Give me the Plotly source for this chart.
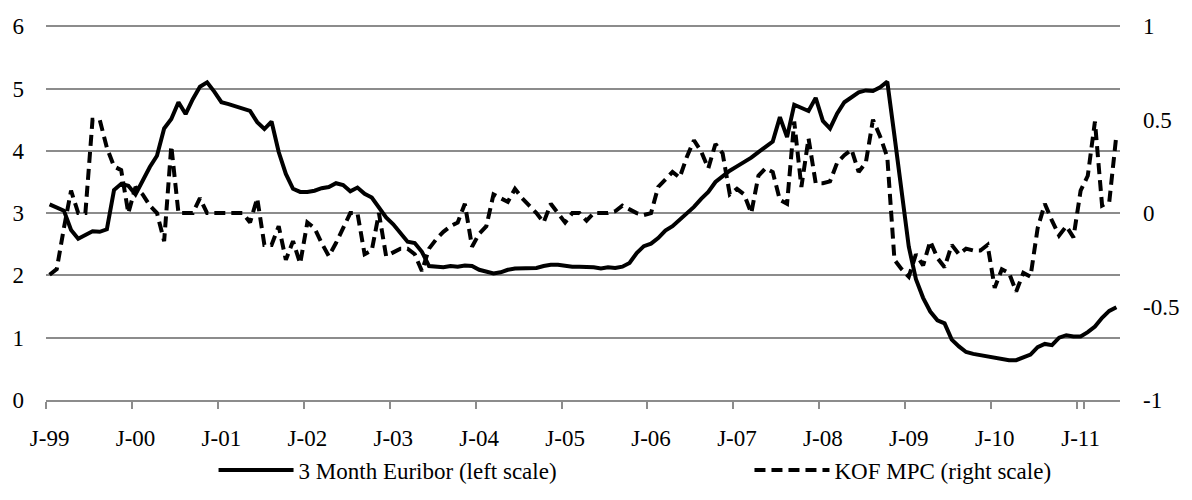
import plotly.graph_objects as go

years = list(range(1999, 2012))
months = [f"{y}-{m:02d}" for y in years for m in range(1, 13)][:150]
tick_cats = [f"{y}-01" for y in years]
tick_text = ["J-99", "J-00", "J-01", "J-02", "J-03", "J-04", "J-05",
             "J-06", "J-07", "J-08", "J-09", "J-10", "J-11"]

euribor = [
    3.14, 3.09, 3.04, 2.73, 2.59, 2.65, 2.71, 2.70, 2.74, 3.37, 3.47, 3.44,
    3.30, 3.52, 3.74, 3.92, 4.36, 4.51, 4.78, 4.59, 4.83, 5.03, 5.10, 4.95,
    4.78, 4.75, 4.71, 4.68, 4.64, 4.46, 4.35, 4.47, 3.98, 3.63, 3.39, 3.34,
    3.34, 3.36, 3.40, 3.42, 3.48, 3.45, 3.35, 3.41, 3.31, 3.25, 3.10, 2.93,
    2.82, 2.68, 2.54, 2.52, 2.38, 2.15, 2.14, 2.13, 2.15, 2.14, 2.16, 2.15,
    2.09, 2.06, 2.03, 2.05, 2.09, 2.11, 2.11, 2.12, 2.12, 2.15, 2.17, 2.17,
    2.15, 2.14, 2.14, 2.14, 2.13, 2.11, 2.13, 2.12, 2.14, 2.20, 2.36, 2.47,
    2.51, 2.60, 2.72, 2.79, 2.89, 2.99, 3.10, 3.23, 3.34, 3.50, 3.60, 3.68,
    3.75, 3.82, 3.89, 3.98, 4.07, 4.15, 4.54, 4.22, 4.74, 4.69, 4.64, 4.85,
    4.48, 4.36, 4.60, 4.78, 4.86, 4.94, 4.97, 4.96, 5.02, 5.11, 4.24, 3.29,
    2.46, 1.94, 1.64, 1.42, 1.28, 1.23, 0.97, 0.86, 0.77, 0.74, 0.72, 0.71,
    0.68, 0.66, 0.64, 0.64, 0.69, 0.73, 0.85, 0.90, 0.88, 1.00, 1.04, 1.02,
    1.02, 1.09, 1.18, 1.32, 1.43, 1.49,
]

kof_mpc = [
    -0.33, -0.30, -0.08, 0.12, 0.00, 0.00, 0.50, 0.50, 0.35, 0.25, 0.23, 0.00,
    0.14, 0.10, 0.04, 0.00, -0.15, 0.36, 0.00, 0.00, 0.00, 0.08, 0.00, 0.00,
    0.00, 0.00, 0.00, 0.00, -0.05, 0.08, -0.17, -0.17, -0.07, -0.25, -0.15, -0.27,
    -0.05, -0.08, -0.16, -0.23, -0.16, -0.08, 0.00, 0.00, -0.22, -0.20, 0.00, -0.23,
    -0.21, -0.19, -0.19, -0.22, -0.31, -0.19, -0.14, -0.10, -0.07, -0.05, 0.05, -0.18,
    -0.11, -0.07, 0.10, 0.08, 0.06, 0.13, 0.08, 0.04, 0.00, -0.05, 0.05, 0.00,
    -0.05, 0.00, 0.00, -0.04, 0.00, 0.00, 0.00, 0.01, 0.04, 0.02, 0.00, -0.01,
    0.00, 0.14, 0.18, 0.22, 0.19, 0.30, 0.39, 0.33, 0.24, 0.37, 0.32, 0.10,
    0.13, 0.10, 0.00, 0.20, 0.24, 0.22, 0.07, 0.05, 0.49, 0.14, 0.40, 0.16,
    0.16, 0.17, 0.27, 0.31, 0.34, 0.22, 0.27, 0.50, 0.41, 0.30, -0.25, -0.30,
    -0.34, -0.22, -0.28, -0.15, -0.24, -0.29, -0.17, -0.22, -0.19, -0.20, -0.20, -0.17,
    -0.40, -0.30, -0.32, -0.42, -0.32, -0.34, -0.08, 0.05, -0.04, -0.12, -0.07, -0.13,
    0.12, 0.20, 0.49, 0.04, 0.06, 0.42,
]

left_ticks = [0, 1, 2, 3, 4, 5, 6]
right_ticks = [-1, -0.5, 0, 0.5, 1]
right_text = ["-1", "-0.5", "0", "0.5", "1"]

GRID = "#8c8c8c"
FONT = dict(family="Liberation Serif", size=23, color="black")

fig = go.Figure()
fig.add_trace(go.Scatter(
    x=months, y=euribor, mode="lines", name="3 Month Euribor (left scale)",
    line=dict(color="black", width=4), yaxis="y", xaxis="x", legend="legend",
))
fig.add_trace(go.Scatter(
    x=months, y=kof_mpc, mode="lines", name="KOF MPC (right scale)",
    line=dict(color="black", width=4, dash="11px,6px"), yaxis="y2", xaxis="x",
    legend="legend2",
))

n = len(months)
top_left = 6.02
top_right = (top_left - 3) / 3

leg_common = dict(orientation="h", xanchor="left", y=-0.187, yanchor="middle",
                  font=FONT, itemwidth=75, bgcolor="rgba(0,0,0,0)")

# the page body adds an 8px offset, so the figure is 8px smaller than the window
fig.update_layout(
    width=1184, height=492,
    margin=dict(l=38, r=72, t=17, b=100, autoexpand=False),
    paper_bgcolor="white", plot_bgcolor="white",
    font=FONT,
    showlegend=True,
    legend=dict(x=0.156, **leg_common),
    legend2=dict(x=0.655, **leg_common),
    xaxis=dict(
        type="category", categoryorder="array", categoryarray=months,
        range=[-0.5, n - 0.5],
        tickmode="array", tickvals=tick_cats, ticktext=tick_text,
        tickson="boundaries", ticks="outside", ticklen=7, tickwidth=1.5, tickcolor=GRID,
        tickangle=0,
        showgrid=False, showline=True, linecolor=GRID, linewidth=1.5,
        zeroline=False, tickfont=FONT, ticklabelstandoff=17,
    ),
    xaxis2=dict(
        overlaying="x", anchor="y", side="bottom", type="linear",
        range=[-0.5, n - 0.5], tickmode="array",
        tickvals=[12 * k - 0.5 for k in range(len(years))],
        ticks="inside", ticklen=7, tickwidth=1.5, tickcolor=GRID,
        showticklabels=False, showgrid=False, showline=False, zeroline=False,
    ),
    yaxis=dict(
        range=[0, top_left], tickmode="array", tickvals=left_ticks,
        showgrid=True, gridcolor=GRID, gridwidth=1.5,
        zeroline=False, showline=False, ticks="", tickfont=FONT,
        ticklabelstandoff=21,
    ),
    yaxis2=dict(
        range=[-1, top_right], overlaying="y", side="right", anchor="x",
        tickmode="array", tickvals=right_ticks, ticktext=right_text,
        showgrid=False, zeroline=False, showline=False, ticks="", tickfont=FONT,
        ticklabelstandoff=22,
    ),
)

fig.write_html("out.html")
